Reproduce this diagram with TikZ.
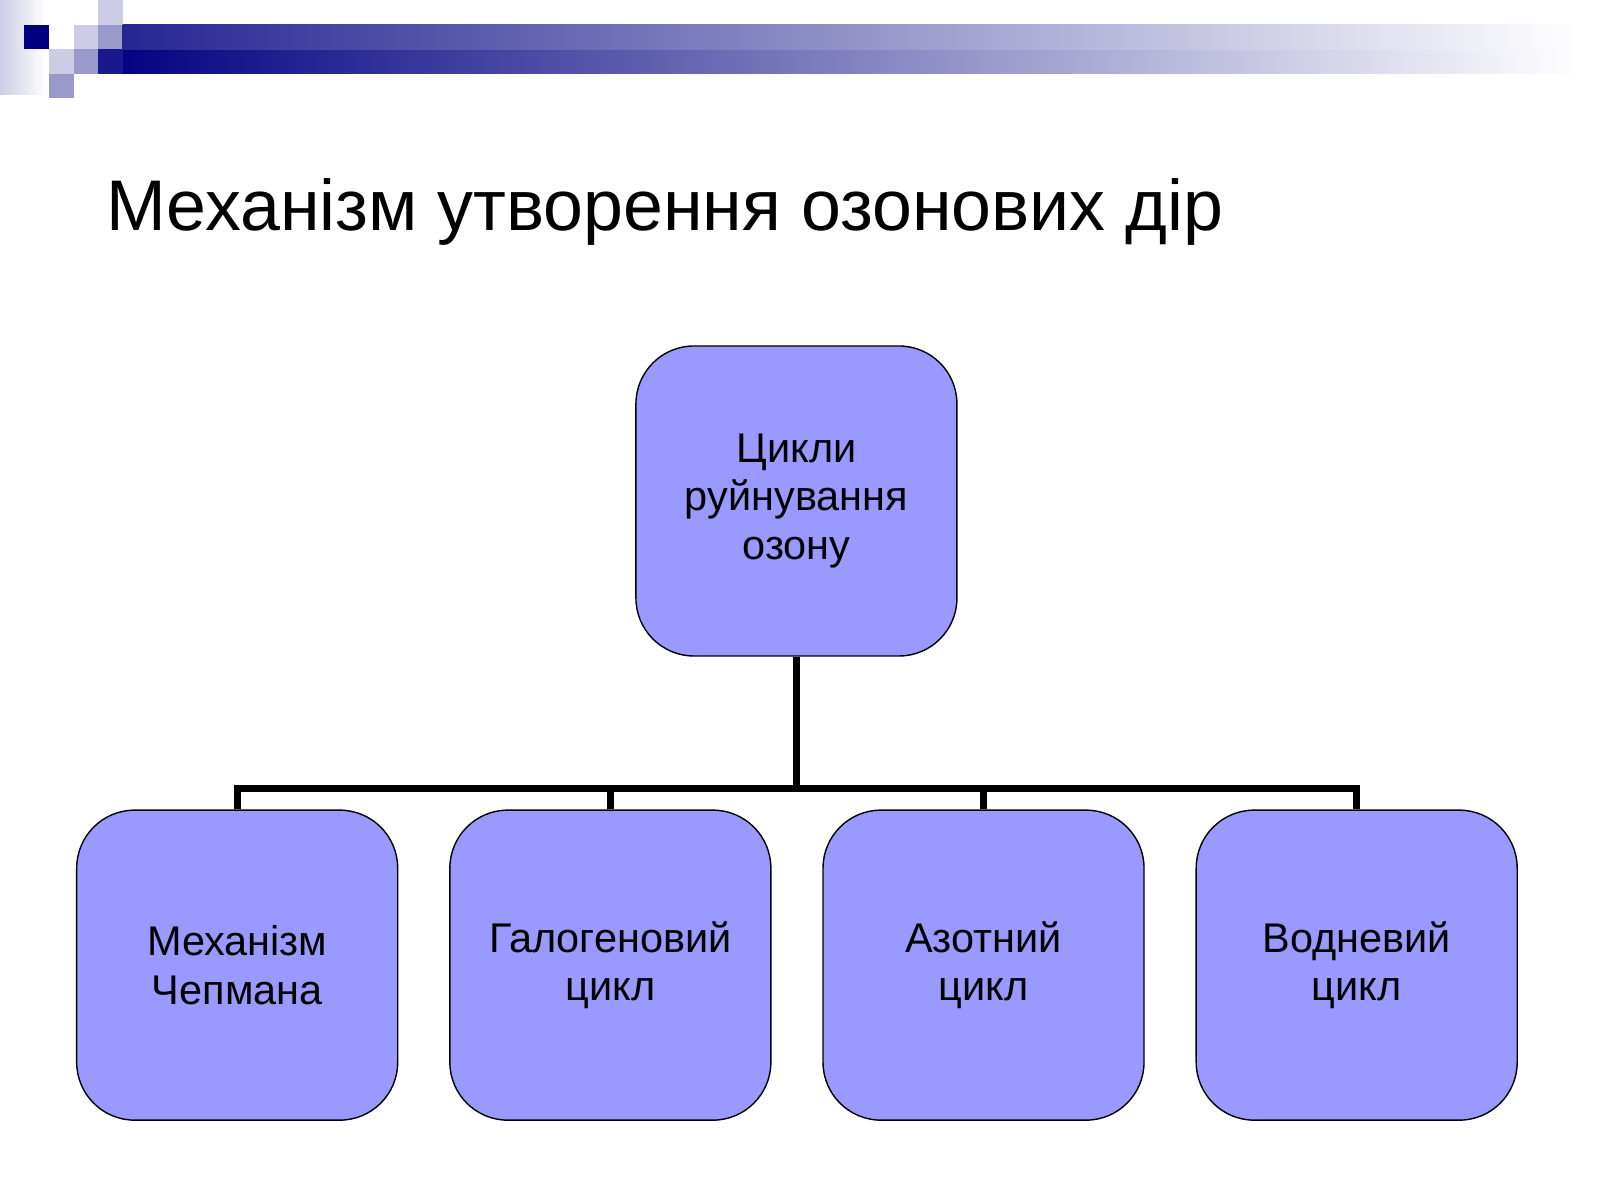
\documentclass[tikz,border=0pt]{standalone}
\usepackage{fontspec}
\setmainfont{Liberation Sans}
\usetikzlibrary{positioning}
\definecolor{navy}{RGB}{0,0,128}
\definecolor{boxblue}{RGB}{153,153,255}
\definecolor{sqlight}{RGB}{204,204,230}
\definecolor{sqmid}{RGB}{153,153,204}
\tikzset{
  cyclebox/.style = {shape=rectangle, rounded corners=16.5pt, draw, thin,
                     fill=boxblue, minimum width=3.21cm, minimum height=3.1cm,
                     align=center, font=\fontsize{11.8}{13.8}\selectfont},
  link/.style     = {line width=2pt}
}
\begin{document}
\begin{tikzpicture}[x=0.01022cm,y=-0.01022cm]
  \useasboundingbox (0,0) rectangle (1565,1174);
  % corner decoration
  \shade[left color=sqlight, right color=white] (0,0) rectangle (45,92);
  \fill[navy] (23,24) rectangle (48,48);
  \fill[sqlight] (72,24) rectangle (96,48);
  \fill[sqmid] (96,24) rectangle (120,48);
  \fill[sqlight] (96,0) rectangle (120,24);
  \fill[sqlight] (48,48) rectangle (72,72);
  \fill[sqmid] (72,48) rectangle (96,72);
  \fill[sqmid] (48,72) rectangle (72,96);
  \shade[left color=navy, right color=white] (96,48) rectangle (1545,72);
  \fill[navy!90] (96,48) rectangle (120,72);
  \shade[left color=navy!85, right color=white] (120,24) rectangle (1545,48);
  % title
  \node[anchor=base west, font=\fontsize{20.4}{24}\selectfont] (title) at (92,225)
    {Механізм утворення озонових дір};
  % boxes
  \node[cyclebox] (top)  at (779,490)  {Цикли\\руйнування\\озону};
  \node[cyclebox] (chap) at (232,944)  {Механізм\\Чепмана};
  \node[cyclebox] (halo) at (597,944)  {Галогеновий\\цикл};
  \node[cyclebox] (azot) at (962,944)  {Азотний\\цикл};
  \node[cyclebox] (vodn) at (1327,944) {Водневий\\цикл};
  % connectors
  \coordinate (hub) at (779,771);
  \draw[link] (top.south) -- (hub);
  \draw[link] (chap.north) |- (hub) -| (vodn.north);
  \draw[link] (halo.north) -- (halo.north |- hub);
  \draw[link] (azot.north) -- (azot.north |- hub);
\end{tikzpicture}
\end{document}
